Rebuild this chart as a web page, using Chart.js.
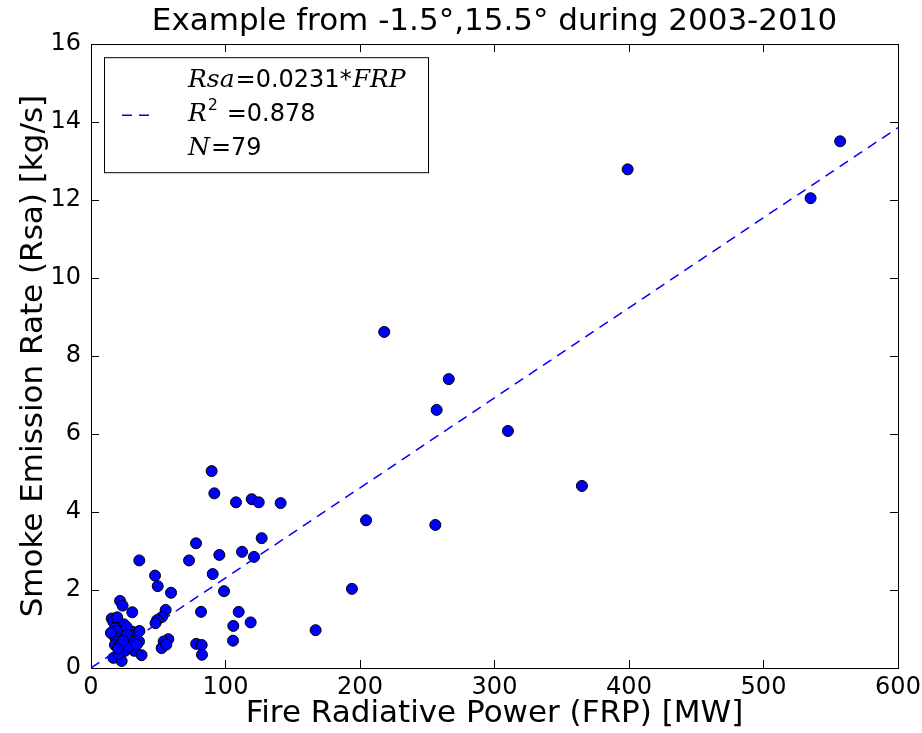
<!DOCTYPE html>
<html>
<head>
<meta charset="utf-8">
<script src="https://cdn.jsdelivr.net/npm/chart.js@4"></script>
<style>
  html, body { margin: 0; padding: 0; background: #fff; }
  #wrap { width: 922px; height: 733px; }
</style>
</head>
<body>
<div id="wrap"><canvas id="chart" width="922" height="733"></canvas></div>
<script>
// points: FRP [MW] and Rsa [kg/s]
const frp = [
  557, 535, 399, 218, 266, 257, 310, 365, 204.5, 256, 194, 167,
  89.7, 91.7, 107.8, 119.5, 124.7, 141, 78.1, 126.9, 35.9, 72.9, 95.4, 112.3, 121.2,
  47.6, 90.5, 49.6, 59.5, 98.9, 55.5, 81.8, 109.8, 52.8, 49.2, 48, 118.7, 105.8, 105.6,
  57.5, 54, 52.5, 78.2, 82.3, 82.5,
  21.6, 23.5, 30.7, 15.4, 16.6, 20.3, 24.5, 17.8, 23.5, 30.9, 16.6, 32.2, 18.4, 29,
  35.7, 17.8, 21.6, 25.3, 32.2, 37.6, 16.6, 22.8, 20.3,
  26.5, 19, 28, 34, 14.8, 20, 27, 56, 36, 24, 19.5
];
const rsa = [
  13.51, 12.05, 12.79, 8.62, 7.41, 6.62, 6.08, 4.67, 3.79, 3.67, 2.03, 0.97,
  5.05, 4.48, 4.25, 4.33, 4.25, 4.23, 3.2, 3.33, 2.76, 2.76, 2.9, 2.98, 2.85,
  2.37, 2.41, 2.1, 1.93, 1.97, 1.49, 1.44, 1.44, 1.31, 1.23, 1.15, 1.17, 1.08, 0.7,
  0.74, 0.68, 0.51, 0.62, 0.59, 0.34,
  1.72, 1.6, 1.43, 1.27, 1.19, 1.15, 1.12, 1.02, 0.93, 0.93, 0.85, 0.83, 0.74, 0.74,
  0.68, 0.59, 0.61, 0.44, 0.44, 0.33, 0.26, 0.18, 0.36,
  1.05, 0.95, 0.55, 0.6, 0.9, 0.5, 0.85, 0.6, 0.95, 0.7, 1.3
];

// fit shown in the legend
const slope = 0.0231;
const rSquared = 0.878;
const nPoints = 79;
const fitX = [0, 600];

const xTicks = [0, 100, 200, 300, 400, 500, 600];
const yTicks = [0, 2, 4, 6, 8, 10, 12, 14, 16];

const titleText = 'Example from -1.5\u00b0,15.5\u00b0 during 2003-2010';
const xLabel = 'Fire Radiative Power (FRP) [MW]';
const yLabel = 'Smoke Emission Rate (Rsa) [kg/s]';

const sans = '"DejaVu Sans"';
const lineColor = '#0000ff';
const lineDash = [10, 7];

const points = frp.map((v, i) => ({ x: v, y: rsa[i] }));
const fitLine = fitX.map(v => ({ x: v, y: slope * v }));

// inward ticks on all four sides, like the matplotlib frame
const frameAxis = (position, ticks, showLabels, extra) => {
  const horizontal = position === 'top' || position === 'bottom';
  return Object.assign({
    type: 'linear',
    position: position,
    min: ticks[0],
    max: ticks[ticks.length - 1],
    border: { display: true, color: '#000', width: 1 },
    grid: { display: true, drawOnChartArea: false, tickLength: -8, tickColor: '#000', tickWidth: 1 },
    ticks: {
      display: showLabels,
      stepSize: ticks[1] - ticks[0],
      color: '#000',
      font: { family: sans, size: 24 },
      padding: horizontal ? 13 : 18,
      maxRotation: 0
    },
    afterBuildTicks: scale => { scale.ticks = ticks.map(v => ({ value: v })); }
  }, extra);
};

const legendBox = {
  id: 'legendBox',
  afterDraw(chart) {
    const ctx = chart.ctx;
    const area = chart.chartArea;
    const left = area.left + 13;
    const top = area.top + 13;
    ctx.save();
    ctx.fillStyle = '#fff';
    ctx.fillRect(left, top, 324, 115);
    ctx.strokeStyle = '#000';
    ctx.lineWidth = 1;
    ctx.strokeRect(left + 0.5, top + 0.5, 324, 115);

    // dashed sample
    ctx.strokeStyle = lineColor;
    ctx.lineWidth = 1.5;
    ctx.setLineDash(lineDash);
    ctx.beginPath();
    ctx.moveTo(left + 18, top + 58);
    ctx.lineTo(left + 52, top + 58);
    ctx.stroke();
    ctx.setLineDash([]);

    const ital = 'italic 25px "DejaVu Serif"';
    const norm = '24px ' + sans;
    const small = '16px ' + sans;
    const rows = [
      [[ital, 'Rsa', 0], [norm, '=' + slope.toFixed(4) + '*', 0], [ital, 'FRP', 0]],
      [[ital, 'R', 0], [small, '2', -11], [norm, ' =' + rSquared.toFixed(3), 0]],
      [[ital, 'N', 0], [norm, '=' + nPoints, 0]]
    ];
    ctx.fillStyle = '#000';
    ctx.textBaseline = 'alphabetic';
    rows.forEach((row, r) => {
      let x = left + 84;
      const y = top + 30 + r * 34;
      row.forEach(([font, txt, dy]) => {
        ctx.font = font;
        ctx.fillText(txt, x, y + dy);
        x += ctx.measureText(txt).width + 1;
      });
    });
    ctx.restore();
  }
};

new Chart(document.getElementById('chart'), {
  type: 'scatter',
  data: {
    datasets: [
      {
        type: 'scatter',
        data: points,
        pointRadius: 5.5,
        pointHoverRadius: 5.5,
        backgroundColor: '#0000ff',
        borderColor: '#000',
        borderWidth: 1,
        order: 2
      },
      {
        type: 'line',
        data: fitLine,
        borderColor: lineColor,
        borderWidth: 1.5,
        borderDash: lineDash,
        pointRadius: 0,
        fill: false,
        order: 1
      }
    ]
  },
  options: {
    responsive: false,
    animation: false,
    layout: { padding: { left: 0, right: 3, top: 0, bottom: 0 } },
    plugins: {
      legend: { display: false },
      tooltip: { enabled: false },
      title: {
        display: true,
        fullSize: false,
        text: titleText,
        color: '#000',
        font: { family: sans, size: 31, weight: 'normal' },
        padding: { top: 3, bottom: 4 }
      }
    },
    scales: {
      x: frameAxis('bottom', xTicks, true, {
        title: { display: true, text: xLabel, color: '#000', font: { family: sans, size: 31 }, padding: { top: 0, bottom: 0 } },
        afterFit: s => { s.height = 65; s.paddingLeft = 0; s.paddingRight = 24; }
      }),
      y: frameAxis('left', yTicks, true, {
        title: { display: true, text: yLabel, color: '#000', font: { family: sans, size: 31 }, padding: { top: 15, bottom: 0 } },
        afterFit: s => { s.width = 91; }
      }),
      x2: frameAxis('top', xTicks, false, { afterFit: s => { s.height = 0; s.paddingRight = 24; } }),
      y2: frameAxis('right', yTicks, false, { afterFit: s => { s.width = 0; } })
    }
  },
  plugins: [legendBox]
});
</script>
</body>
</html>
